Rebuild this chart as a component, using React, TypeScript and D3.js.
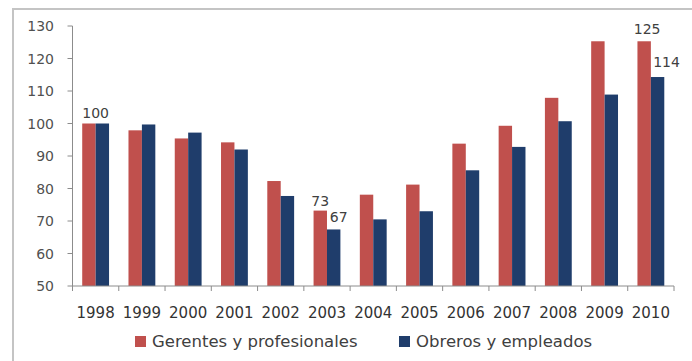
import React from "react";
import * as d3 from "d3";

const years = ["1998","1999","2000","2001","2002","2003","2004","2005","2006","2007","2008","2009","2010"];
const gerentes = [100, 97.9, 95.4, 94.2, 82.3, 73.2, 78.1, 81.2, 93.8, 99.3, 107.9, 125.3, 125.3];
const obreros = [100, 99.7, 97.2, 92.0, 77.7, 67.4, 70.5, 73.0, 85.6, 92.8, 100.7, 108.9, 114.3];
const seriesNames = ["Gerentes y profesionales", "Obreros y empleados"];
const yTicks = [50, 60, 70, 80, 90, 100, 110, 120, 130];
// data labels: [year, series index, text]
const labelYears = ["1998", "2003", "2003", "2010", "2010"];
const labelSeries = [-1, 0, 1, 0, 1];
const labelTexts = ["100", "73", "67", "125", "114"];

const colors = ["#C0504D", "#1F3D6B"];
const FONT = "'DejaVu Sans', sans-serif";

export default function App() {
  const W = 692, H = 361;
  const x = d3.scaleBand<string>().domain(years).range([72.5, 674]).paddingInner(0.42).paddingOuter(0.21);
  const xs = d3.scaleBand<number>().domain([0, 1]).range([0, x.bandwidth()]);
  const y = d3.scaleLinear().domain([50, 130]).range([286, 26]);
  const step = x.step();
  const [r0, r1] = x.range();
  const boundaries = d3.range(years.length + 1).map((i) => r0 + i * step);
  const series = [gerentes, obreros];
  const labelDx = [0, 0, 5, 3, 9];
  const labelDy = [-6, -5, -7, -7, -10];
  const legendX = [135, 399];

  return (
    <svg width={W} height={H} style={{ position: "absolute", left: 0, top: 0, background: "#fff" }} fontFamily={FONT}>
      <rect x={0} y={0} width={W} height={H} fill="#fff" />
      {/* frame */}
      <line x1={13} x2={13} y1={9} y2={H} stroke="#c4c4c4" strokeWidth={2} />
      <line x1={12} x2={W} y1={9} y2={9} stroke="#c4c4c4" strokeWidth={2} />
      {/* bars */}
      {series.map((vals, si) =>
        years.map((yr, i) => (
          <rect key={si + "-" + yr}
            x={(x(yr) as number) + (xs(si) as number)}
            y={y(vals[i])}
            width={xs.bandwidth()}
            height={y(50) - y(vals[i])}
            fill={colors[si]} />
        ))
      )}
      {/* y axis */}
      <line x1={r0} x2={r0} y1={y(130)} y2={y(50)} stroke="#8c8c8c" strokeWidth={1} />
      {yTicks.map((t) => (
        <g key={t}>
          <line x1={r0 - 5} x2={r0} y1={y(t)} y2={y(t)} stroke="#8c8c8c" />
          <text x={54} y={y(t)} dy="0.36em" textAnchor="end" fontSize={14} fill="#505050">{t}</text>
        </g>
      ))}
      {/* x axis */}
      <line x1={r0} x2={r1} y1={y(50)} y2={y(50)} stroke="#8c8c8c" />
      {boundaries.map((b, i) => (
        <line key={i} x1={b} x2={b} y1={y(50)} y2={y(50) + 5} stroke="#8c8c8c" />
      ))}
      {years.map((yr) => (
        <text key={yr} x={(x(yr) as number) + x.bandwidth() / 2} y={318} textAnchor="middle" fontSize={15} fill="#333">{yr}</text>
      ))}
      {/* data labels */}
      {labelYears.map((yr, k) => {
        const si = labelSeries[k];
        const i = years.indexOf(yr);
        const cx = si < 0 ? (x(yr) as number) + x.bandwidth() / 2 : (x(yr) as number) + (xs(si) as number) + xs.bandwidth() / 2;
        const v = si < 0 ? Math.max(gerentes[i], obreros[i]) : series[si][i];
        return (
          <text key={k} x={cx + labelDx[k]} y={y(v) + labelDy[k]} textAnchor="middle" fontSize={14} fill="#404040">{labelTexts[k]}</text>
        );
      })}
      {/* legend */}
      {seriesNames.map((n, si) => (
        <g key={n}>
          <rect x={legendX[si]} y={336} width={11} height={11} fill={colors[si]} />
          <text x={legendX[si] + 17} y={347} fontSize={16.5} fill="#404040">{n}</text>
        </g>
      ))}
    </svg>
  );
}
